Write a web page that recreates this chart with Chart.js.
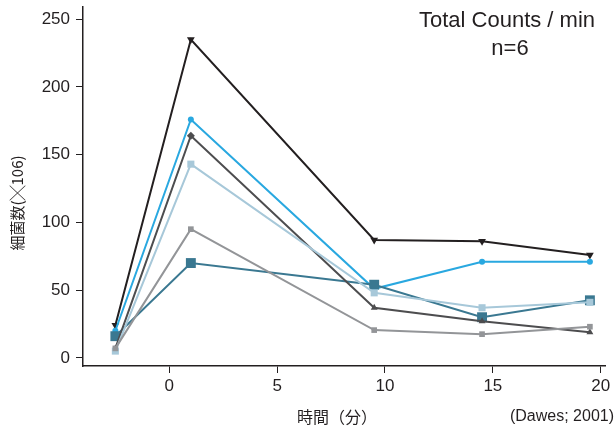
<!DOCTYPE html>
<html>
<head>
<meta charset="utf-8">
<script src="https://cdn.jsdelivr.net/npm/chart.js@4/dist/chart.umd.min.js"></script>
<style>
  html, body { margin: 0; padding: 0; background: #fff; }
  #wrap { width: 615px; height: 432px; }
</style>
</head>
<body>
<div id="wrap"><canvas id="chart" width="615" height="432"></canvas></div>
<script>
// time points (minutes)
const times = [-2.5, 1, 9.5, 14.5, 19.5];

// six subjects, bacteria count (x10^6)
const subjA = [24, 235, 87, 86, 76];   // black, down triangle
const subjB = [20, 176, 51, 71, 71];   // blue, circle
const subjC = [7, 164, 37, 27, 19];    // dark gray, triangle
const subjD = [5, 143, 48, 37, 41];    // light blue, square
const subjE = [7, 95, 20.5, 17.5, 23]; // gray, square
const subjF = [16, 70, 54, 30, 42.5];  // teal, big square

const yTicks = [0, 50, 100, 150, 200, 250];
const xTicks = [0, 5, 10, 15, 20];

const sans = "'Liberation Sans', Arial, sans-serif";
const ink = '#231f20';

function pts(vals) {
    return vals.map((v, i) => ({ x: times[i], y: v }));
}

function series(vals, color, style, radius, rotation) {
    return {
        data: pts(vals),
        borderColor: color,
        backgroundColor: color,
        borderWidth: 2,
        pointStyle: style,
        pointRadius: radius,
        pointRotation: rotation || 0,
        pointBorderWidth: 0,
        tension: 0
    };
}

// dark gray uses a diamond at the peak, triangles elsewhere
const cSeries = series(subjC, '#4d4d4f', 'triangle', 4);
cSeries.pointStyle = ['triangle', 'rectRot', 'triangle', 'triangle', 'triangle'];

const datasets = [
    series(subjE, '#939598', 'rect', 4),
    series(subjD, '#a7c8d9', 'rect', 5),
    cSeries,
    series(subjF, '#3a7891', 'rect', 7),
    series(subjB, '#29a8e0', 'circle', 3),
    series(subjA, ink, 'triangle', 4.5, 180)
];

// free text: title, axis captions, source
const textPlugin = {
    id: 'texts',
    afterDraw(chart) {
        const c = chart.ctx;
        c.save();
        c.fillStyle = ink;
        c.textAlign = 'center';
        c.textBaseline = 'alphabetic';
        c.font = '22px ' + sans;
        c.fillText('Total Counts / min', 507, 27);
        c.fillText('n=6', 510, 55);

        c.font = "16px 'Noto Sans CJK JP', sans-serif";
        c.textBaseline = 'middle';
        c.fillText('時間（分）', 337, 417);

        c.font = '16px ' + sans;
        c.textAlign = 'right';
        c.fillText('(Dawes; 2001)', 614, 417);

        c.translate(17, 203);
        c.rotate(-Math.PI / 2);
        c.textAlign = 'center';
        c.font = "15px 'Noto Sans CJK JP', sans-serif";
        c.fillText('細菌数(╳106)', 0, 0);
        c.restore();
    }
};

function noPad(axis) {
    axis.paddingTop = 0;
    axis.paddingBottom = 0;
    axis.paddingLeft = 0;
    axis.paddingRight = 0;
}

new Chart(document.getElementById('chart'), {
    type: 'scatter',
    data: { datasets: datasets },
    options: {
        responsive: false,
        animation: false,
        showLine: true,
        layout: { padding: { top: 6, right: 10, left: 0, bottom: 0 } },
        plugins: {
            legend: { display: false },
            tooltip: { enabled: false }
        },
        scales: {
            x: {
                type: 'linear',
                min: -4,
                max: 20.2,
                afterBuildTicks: axis => { axis.ticks = xTicks.map(v => ({ value: v })); },
                afterFit: axis => { axis.height = 66; noPad(axis); },
                border: { display: true, color: ink, width: 1.5 },
                grid: { display: true, drawOnChartArea: false, drawTicks: true, tickLength: 7, color: ink, lineWidth: 1 },
                ticks: { color: ink, font: { family: sans, size: 17 }, padding: 3 }
            },
            y: {
                type: 'linear',
                min: -6,
                max: 259,
                afterBuildTicks: axis => { axis.ticks = yTicks.map(v => ({ value: v })); },
                afterFit: axis => { axis.width = 83; noPad(axis); },
                border: { display: true, color: ink, width: 1.5 },
                grid: { display: true, drawOnChartArea: false, drawTicks: true, tickLength: 7, color: ink, lineWidth: 1 },
                ticks: { color: ink, font: { family: sans, size: 17 }, padding: 6 }
            }
        }
    },
    plugins: [textPlugin]
});
</script>
</body>
</html>
